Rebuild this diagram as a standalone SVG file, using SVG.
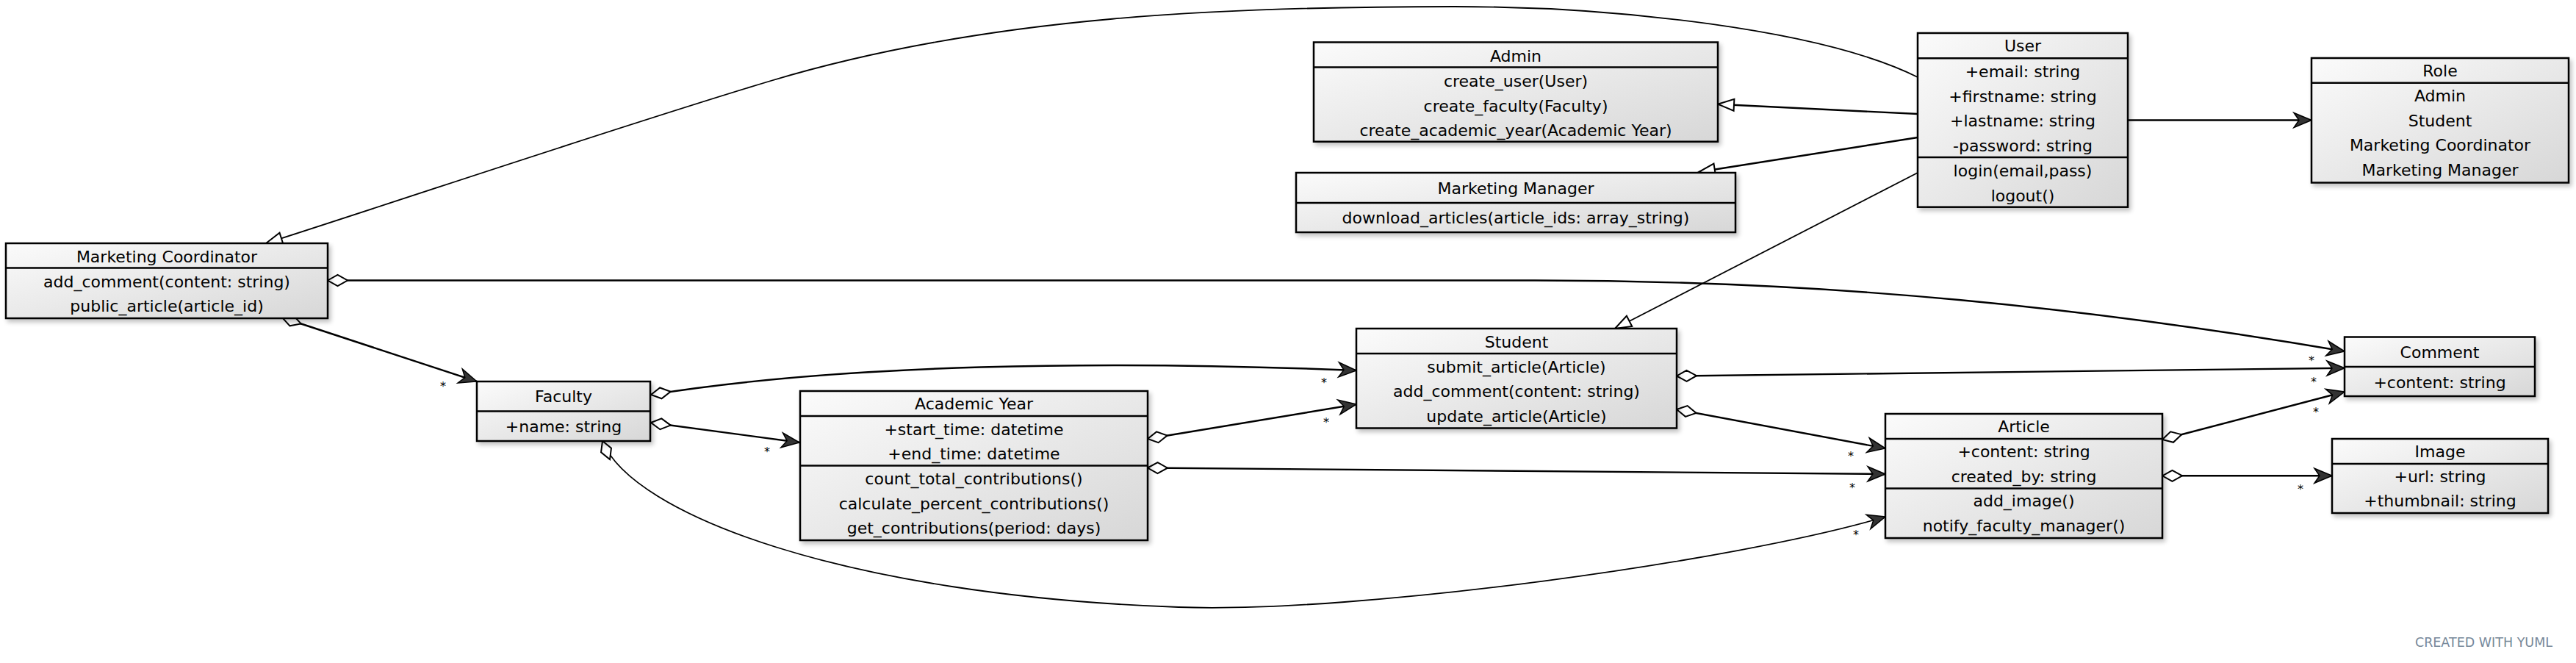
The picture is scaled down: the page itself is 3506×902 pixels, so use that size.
<svg xmlns="http://www.w3.org/2000/svg" width="3506" height="902" viewBox="0 0 3506 902">
<style>
.box{fill:url(#g);stroke:#000;stroke-width:2.5;filter:url(#sh)}
.sep{stroke:#000;stroke-width:2.5}
.t{font-family:"DejaVu Sans","Liberation Sans",sans-serif;font-size:22px;text-anchor:middle;fill:#000}
.m{font-family:"DejaVu Sans","Liberation Sans",sans-serif;font-size:16px;text-anchor:middle;fill:#000}
.c{fill:none;stroke:#000;stroke-width:2.4}
.c2{fill:none;stroke:#000;stroke-width:1.8}
.agg{marker-start:url(#dia);marker-end:url(#vee)}
.gen{marker-end:url(#tri)}
.wm{font-family:"DejaVu Sans","Liberation Sans",sans-serif;font-size:17.5px;text-anchor:end;fill:#778899}
</style>
<defs>
<linearGradient id="g" x1="0" y1="0" x2="1" y2="1">
<stop offset="0" stop-color="#fbfbfb"/>
<stop offset="1" stop-color="#d7d7d7"/>
</linearGradient>
<filter id="sh" x="-5%" y="-5%" width="115%" height="130%">
<feGaussianBlur in="SourceAlpha" stdDeviation="3"/>
<feOffset dx="3" dy="4"/>
<feComponentTransfer><feFuncA type="linear" slope="0.25"/></feComponentTransfer>
<feMerge><feMergeNode/><feMergeNode in="SourceGraphic"/></feMerge>
</filter>
<marker id="vee" markerUnits="userSpaceOnUse" viewBox="-28 -13 32 26" markerWidth="32" markerHeight="26" refX="0" refY="0" orient="auto" overflow="visible">
<path d="M0,0 L-24,-10 L-17,0 L-24,10 Z" fill="#333" stroke="#000" stroke-width="1.5"/>
</marker>
<marker id="tri" markerUnits="userSpaceOnUse" viewBox="-26 -11 30 22" markerWidth="30" markerHeight="22" refX="0" refY="0" orient="auto" overflow="visible">
<path d="M0,0 L-22,-8 L-22,8 Z" fill="#fff" stroke="#000" stroke-width="2"/>
</marker>
<marker id="dia" markerUnits="userSpaceOnUse" viewBox="-3 -10 34 20" markerWidth="34" markerHeight="20" refX="0" refY="0" orient="auto" overflow="visible">
<path d="M0,0 L13.5,-7.5 L27,0 L13.5,7.5 Z" fill="#fff" stroke="#000" stroke-width="2"/>
</marker>
</defs>
<rect width="3506" height="902" fill="#fff"/>

<g id="connectors">
<path class="c2 gen" d="M2610,105 C2480,40 2200,9 1979,9 C1679,9 1349,20 1049,110 C849,170 562,267 362,331"/>
<path class="c agg" d="M446,381.5 L2089,381.5 C2500,381.5 2850,420 3191,478"/>
<path class="c agg" d="M384,432 L649,519"/>
<path class="c agg" d="M886,537 C1150,495 1500,490 1846,504"/>
<path class="c agg" d="M886,575 L1088,602"/>
<path class="c2 agg" d="M820,600 C860,700 1150,810 1604,826 C1850,835 2366,763 2566,703"/>
<path class="c agg" d="M1562,597 L1846,550"/>
<path class="c agg" d="M1562,636.5 L2566,645"/>
<path class="c agg" d="M2282,511.5 L3191,500.7"/>
<path class="c agg" d="M2282,557 L2566,610"/>
<path class="c agg" d="M2943,598 L3191,533"/>
<path class="c agg" d="M2943,647.3 L3174,647.3"/>
<path class="c" marker-end="url(#vee)" d="M2896,163.5 L3146,163.5"/>
<path class="c gen" d="M2610,155 L2338,141.7"/>
<path class="c gen" d="M2610,187 L2312,234"/>
<path class="c2 gen" d="M2610,235 L2198,447"/>
<text class="m" x="603" y="531">*</text>
<text class="m" x="1044" y="620">*</text>
<text class="m" x="1802" y="526">*</text>
<text class="m" x="1805" y="580">*</text>
<text class="m" x="2519" y="626">*</text>
<text class="m" x="2521" y="669">*</text>
<text class="m" x="2526" y="733">*</text>
<text class="m" x="3146" y="496">*</text>
<text class="m" x="3149" y="525">*</text>
<text class="m" x="3152" y="566">*</text>
<text class="m" x="3131" y="671">*</text>
</g>

<g id="node-marketing-coordinator">
<rect class="box" x="8" y="331" width="438" height="102"/>
<line class="sep" x1="8" y1="364.5" x2="446" y2="364.5"/>
<text class="t" x="227" y="356.5">Marketing Coordinator</text>
<text class="t" x="227" y="390.5">add_comment(content: string)</text>
<text class="t" x="227" y="424">public_article(article_id)</text>
</g>

<g id="node-faculty">
<rect class="box" x="649" y="519" width="236" height="81"/>
<line class="sep" x1="649" y1="559.5" x2="885" y2="559.5"/>
<text class="t" x="767" y="547">Faculty</text>
<text class="t" x="767" y="587.5">+name: string</text>
</g>

<g id="node-academic-year">
<rect class="box" x="1089" y="532" width="473" height="203"/>
<line class="sep" x1="1089" y1="566" x2="1562" y2="566"/>
<line class="sep" x1="1089" y1="633.5" x2="1562" y2="633.5"/>
<text class="t" x="1325.5" y="556.5">Academic Year</text>
<text class="t" x="1325.5" y="591.5">+start_time: datetime</text>
<text class="t" x="1325.5" y="625">+end_time: datetime</text>
<text class="t" x="1325.5" y="658.5">count_total_contributions()</text>
<text class="t" x="1325.5" y="692.5">calculate_percent_contributions()</text>
<text class="t" x="1325.5" y="726">get_contributions(period: days)</text>
</g>

<g id="node-student">
<rect class="box" x="1846" y="447" width="436" height="135.5"/>
<line class="sep" x1="1846" y1="481" x2="2282" y2="481"/>
<text class="t" x="2064" y="472.5">Student</text>
<text class="t" x="2064" y="506.5">submit_article(Article)</text>
<text class="t" x="2064" y="540">add_comment(content: string)</text>
<text class="t" x="2064" y="573.5">update_article(Article)</text>
</g>

<g id="node-article">
<rect class="box" x="2566" y="563" width="377" height="169"/>
<line class="sep" x1="2566" y1="597" x2="2943" y2="597"/>
<line class="sep" x1="2566" y1="664.5" x2="2943" y2="664.5"/>
<text class="t" x="2754.5" y="587.5">Article</text>
<text class="t" x="2754.5" y="621.5">+content: string</text>
<text class="t" x="2754.5" y="655.5">created_by: string</text>
<text class="t" x="2754.5" y="689">add_image()</text>
<text class="t" x="2754.5" y="723">notify_faculty_manager()</text>
</g>

<g id="node-comment">
<rect class="box" x="3191" y="458.5" width="259" height="80.5"/>
<line class="sep" x1="3191" y1="499" x2="3450" y2="499"/>
<text class="t" x="3320.5" y="486.5">Comment</text>
<text class="t" x="3320.5" y="527.5">+content: string</text>
</g>

<g id="node-image">
<rect class="box" x="3174" y="597" width="294" height="101"/>
<line class="sep" x1="3174" y1="631" x2="3468" y2="631"/>
<text class="t" x="3321" y="621.5">Image</text>
<text class="t" x="3321" y="655.5">+url: string</text>
<text class="t" x="3321" y="689">+thumbnail: string</text>
</g>

<g id="node-role">
<rect class="box" x="3146" y="79" width="350" height="169.5"/>
<line class="sep" x1="3146" y1="112.7" x2="3496" y2="112.7"/>
<text class="t" x="3321" y="103.5">Role</text>
<text class="t" x="3321" y="138">Admin</text>
<text class="t" x="3321" y="171.5">Student</text>
<text class="t" x="3321" y="205">Marketing Coordinator</text>
<text class="t" x="3321" y="238.5">Marketing Manager</text>
</g>

<g id="node-user">
<rect class="box" x="2610" y="45" width="286" height="236.7"/>
<line class="sep" x1="2610" y1="79.3" x2="2896" y2="79.3"/>
<line class="sep" x1="2610" y1="214" x2="2896" y2="214"/>
<text class="t" x="2753" y="70">User</text>
<text class="t" x="2753" y="104.5">+email: string</text>
<text class="t" x="2753" y="138.5">+firstname: string</text>
<text class="t" x="2753" y="172">+lastname: string</text>
<text class="t" x="2753" y="205.5">-password: string</text>
<text class="t" x="2753" y="239.5">login(email,pass)</text>
<text class="t" x="2753" y="273.5">logout()</text>
</g>

<g id="node-admin">
<rect class="box" x="1788" y="57.5" width="550" height="135.2"/>
<line class="sep" x1="1788" y1="91.5" x2="2338" y2="91.5"/>
<text class="t" x="2063" y="83.5">Admin</text>
<text class="t" x="2063" y="117.5">create_user(User)</text>
<text class="t" x="2063" y="151.5">create_faculty(Faculty)</text>
<text class="t" x="2063" y="185">create_academic_year(Academic Year)</text>
</g>

<g id="node-marketing-manager">
<rect class="box" x="1764" y="235" width="598" height="81"/>
<line class="sep" x1="1764" y1="276" x2="2362" y2="276"/>
<text class="t" x="2063" y="264">Marketing Manager</text>
<text class="t" x="2063" y="304">download_articles(article_ids: array_string)</text>
</g>

<text class="wm" x="3474" y="880">CREATED WITH YUML</text>
</svg>
